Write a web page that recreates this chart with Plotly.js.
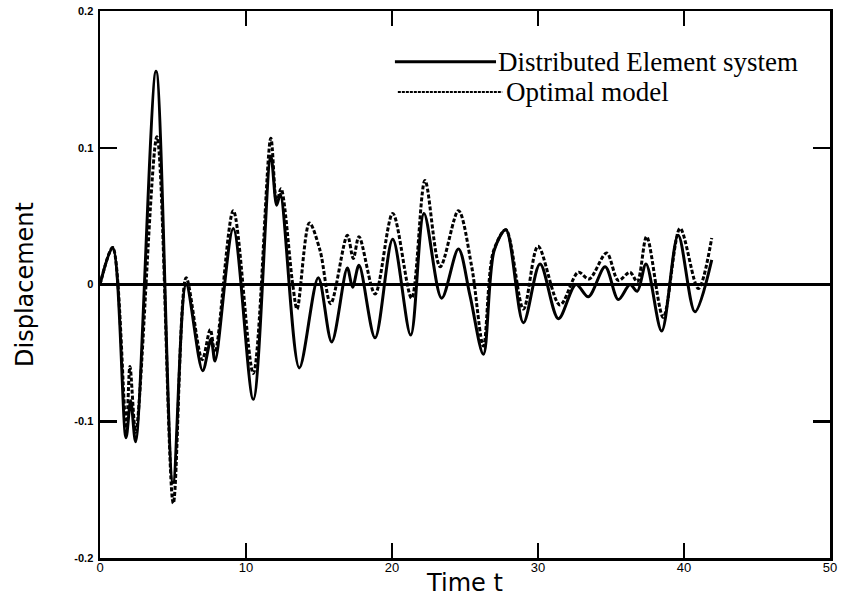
<!DOCTYPE html>
<html>
<head>
<meta charset="utf-8">
<script src="https://cdn.plot.ly/plotly-3.0.1.min.js"></script>
<style>
  html, body { margin: 0; padding: 0; background: #fff; }
  #chart { width: 841px; height: 601px; }
</style>
</head>
<body>
<div id="chart"></div>
<script>
// Series names
const seriesNames = ["Distributed Element system", "Optimal model"];

// Distributed Element system (solid)
const tSolid = [0, 0.87, 1.78, 2.1, 2.44, 3.84, 5.0, 5.9, 7.03, 7.6, 7.88, 9.13, 10.5, 11.7, 12.1, 12.35,
  13.65, 14.95, 15.87, 16.94, 17.3, 17.74, 18.84, 20.05, 21.28, 22.19, 23.4, 24.55, 25.34, 26.26, 27.0, 27.8,
  29.0, 30.14, 31.4, 32.6, 33.45, 34.6, 35.5, 36.3, 36.8, 37.4, 38.47, 39.6, 40.75, 41.9];
const ySolid = [0, 0.027, -0.112, -0.085, -0.115, 0.156, -0.145, 0.0, -0.063, -0.04, -0.056, 0.041, -0.084, 0.094, 0.058, 0.066,
  -0.061, 0.005, -0.042, 0.012, -0.002, 0.014, -0.039, 0.033, -0.037, 0.052, -0.010, 0.026, -0.008, -0.051, 0.025, 0.040,
  -0.028, 0.015, -0.025, 0.0, -0.009, 0.013, -0.011, 0.0, -0.005, 0.015, -0.034, 0.036, -0.02, 0.018];

// Optimal model (dashed)
const tOptimal = [0, 0.87, 1.8, 2.05, 2.45, 3.9, 5.02, 5.9, 7.0, 7.55, 7.88, 9.13, 10.5, 11.7, 12.1, 12.4,
  13.2, 13.5, 14.34, 15.07, 15.8, 16.94, 17.35, 17.74, 18.84, 20.05, 21.34, 22.26, 23.3, 24.55, 25.46, 26.26,
  26.94, 27.8, 29.0, 30.0, 31.5, 32.76, 33.5, 34.7, 35.5, 36.3, 36.8, 37.44, 38.58, 39.73, 40.98, 41.9];
const yOptimal = [0, 0.027, -0.105, -0.06, -0.108, 0.108, -0.16, 0.005, -0.055, -0.033, -0.05, 0.054, -0.065, 0.107, 0.06, 0.07,
  0.0, -0.018, 0.045, 0.025, -0.014, 0.036, 0.019, 0.035, -0.007, 0.052, -0.01, 0.076, 0.013, 0.054, 0.013, -0.045,
  0.024, 0.04, -0.018, 0.028, -0.015, 0.009, 0.004, 0.023, 0.003, 0.009, 0.002, 0.035, -0.024, 0.041, -0.003, 0.034];

// Axis ticks
const xTicks = [0, 10, 20, 30, 40, 50];
const xTickText = ["0", "10", "20", "30", "40", "50"];
const yTicks = [-0.2, -0.1, 0, 0.1, 0.2];
const yTickText = ["-0.2", "-0.1", "0", "0.1", "0.2"];

const traces = [
  {
    x: tSolid, y: ySolid, name: seriesNames[0], type: "scatter", mode: "lines",
    line: { color: "#000", width: 3, shape: "spline", smoothing: 0.9 },
    showlegend: false
  },
  {
    x: tOptimal, y: yOptimal, name: seriesNames[1], type: "scatter", mode: "lines",
    line: { color: "#000", width: 3, dash: "4px,2px", shape: "spline", smoothing: 0.9 },
    showlegend: false
  }
];

const layout = {
  width: 841, height: 601,
  margin: { l: 100, r: 11, t: 11, b: 43 },
  paper_bgcolor: "#fff", plot_bgcolor: "#fff",
  font: { family: "Liberation Sans, Arial, sans-serif", color: "#000" },
  xaxis: {
    range: [0, 50], tickvals: xTicks, ticktext: xTickText,
    ticks: "inside", ticklen: 15, tickwidth: 2, tickcolor: "#000",
    showline: true, linewidth: 2.5, linecolor: "#000", mirror: "ticks",
    showgrid: false, zeroline: false,
    tickfont: { size: 13, family: "Liberation Sans, Arial, sans-serif" },
    ticklabelstandoff: -4,
    title: { text: "Time t", font: { size: 24, family: "DejaVu Sans, sans-serif" }, standoff: 0 }
  },
  yaxis: {
    range: [-0.2, 0.2], tickvals: yTicks, ticktext: yTickText,
    ticks: "inside", ticklen: 17, tickwidth: 2.5, tickcolor: "#000",
    showline: true, linewidth: 2.5, linecolor: "#000", mirror: "ticks",
    showgrid: false,
    zeroline: true, zerolinecolor: "#000", zerolinewidth: 3,
    tickfont: { size: 11, weight: "bold", family: "Liberation Sans, Arial, sans-serif" },
    ticklabelstandoff: 2,
    title: { text: "Displacement", font: { size: 24, family: "DejaVu Sans, sans-serif" }, standoff: 34 }
  },
  shapes: [
    { type: "line", xref: "paper", yref: "paper", x0: 0.404, x1: 0.5425, y0: 0.907, y1: 0.907,
      line: { color: "#000", width: 3 } },
    { type: "line", xref: "paper", yref: "paper", x0: 0.408, x1: 0.551, y0: 0.852, y1: 0.852,
      line: { color: "#000", width: 2, dash: "3px,1px" } }
  ],
  annotations: [
    { xref: "paper", yref: "paper", x: 0.543, y: 0.907, xanchor: "left", yanchor: "middle",
      text: seriesNames[0], showarrow: false,
      font: { family: "Liberation Serif, Times New Roman, serif", size: 27, color: "#000" } },
    { xref: "paper", yref: "paper", x: 0.554, y: 0.852, xanchor: "left", yanchor: "middle",
      text: seriesNames[1], showarrow: false,
      font: { family: "Liberation Serif, Times New Roman, serif", size: 27, color: "#000" } }
  ]
};

Plotly.newPlot("chart", traces, layout, { displayModeBar: false, staticPlot: true });
</script>
</body>
</html>
